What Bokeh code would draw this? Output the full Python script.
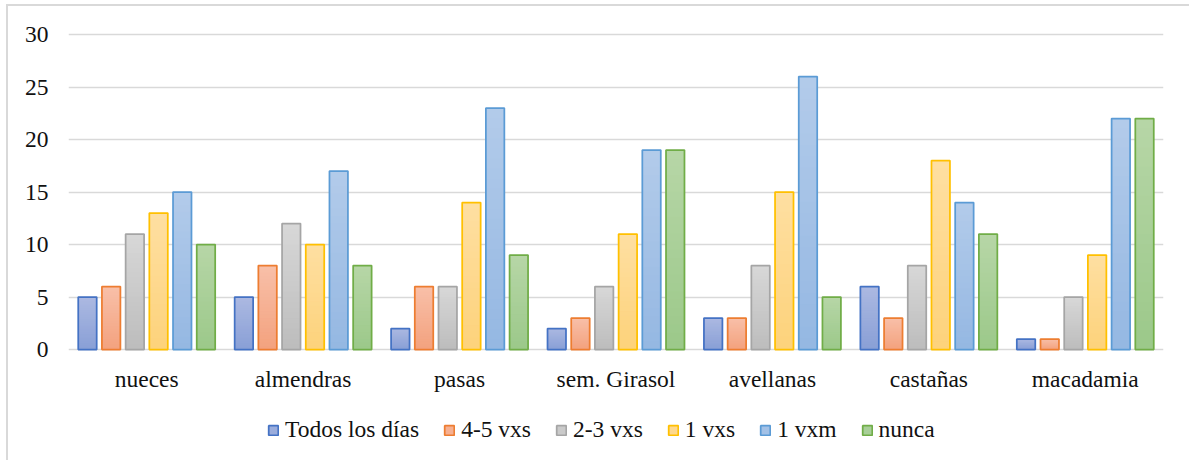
import numpy as np
from bokeh.plotting import figure
from bokeh.models import (ColumnDataSource, FactorRange, Range1d, FixedTicker,
                          Legend, LegendItem)
from bokeh.core.properties import value
from bokeh.transform import dodge
from bokeh.embed import file_html
from bokeh.resources import INLINE

categories = ["nueces", "almendras", "pasas", "sem. Girasol", "avellanas", "castañas", "macadamia"]
series_names = ["Todos los días", "4-5 vxs", "2-3 vxs", "1 vxs", "1 vxm", "nunca"]
todos_los_dias = [5, 5, 2, 2, 3, 6, 1]
v45_vxs = [6, 8, 6, 3, 3, 3, 1]
v23_vxs = [11, 12, 6, 6, 8, 8, 5]
v1_vxs = [13, 10, 14, 11, 15, 18, 9]
v1_vxm = [15, 17, 23, 19, 26, 14, 22]
nunca = [10, 8, 9, 19, 5, 11, 22]
series_values = [todos_los_dias, v45_vxs, v23_vxs, v1_vxs, v1_vxm, nunca]
y_ticks = [0, 5, 10, 15, 20, 25, 30]

line_colors = ["#4472c4", "#ed7d31", "#a5a5a5", "#ffc000", "#5b9bd5", "#70ad47"]
top_colors = ["#abb8e1", "#f8bfa8", "#d7d7d7", "#fedfa1", "#b2cbea", "#b6d6a6"]
bottom_colors = ["#889fd6", "#f3a17d", "#bcbcbc", "#fdd27a", "#94b7e2", "#9bc889"]

FONT = "Liberation Serif"
TXT = "#111111"
FS = "23.5px"

# frame extends below the zero line so that category labels and legend sit inside it
p = figure(frame_width=1095, frame_height=428,
           x_range=FactorRange(factors=categories, range_padding=0),
           y_range=Range1d(-10.57, 30.2), output_backend="svg", toolbar_location=None,
           min_border_left=60, min_border_right=26, min_border_top=26, min_border_bottom=0)
p.styles = {"border-top": "2px solid #d9d9d9", "border-left": "2px solid #d9d9d9",
            "margin-left": "6px", "margin-top": "4px"}
p.outline_line_color = None
p.background_fill_color = "white"
p.border_fill_color = "white"

p.xaxis.visible = False
p.xgrid.grid_line_color = None
p.ygrid.ticker = FixedTicker(ticks=y_ticks)
p.ygrid.grid_line_color = "#d9d9d9"
p.ygrid.grid_line_width = 1.5
p.yaxis.ticker = FixedTicker(ticks=y_ticks)
p.yaxis.axis_line_color = None
p.yaxis.major_tick_line_color = None
p.yaxis.minor_tick_line_color = None
p.yaxis.major_label_standoff = 14
p.yaxis.major_label_text_font = FONT
p.yaxis.major_label_text_font_size = FS
p.yaxis.major_label_text_color = TXT

# category labels under the zero line
lab_src = ColumnDataSource(dict(cat=categories, y=[0] * len(categories)))
p.text(x="cat", y="y", text="cat", source=lab_src, text_align="center", text_baseline="middle",
       y_offset=29, text_font=value(FONT), text_font_size=FS, text_color=TXT)


def hex2rgb(h):
    return np.array([int(h[i:i + 2], 16) for i in (1, 3, 5)], dtype=float)


def rgb2hex(c):
    return "#%02x%02x%02x" % tuple(int(round(v)) for v in c)


N = 24
MID = N // 2
pitch = 0.1515
bar_w = 0.118
items = []
for i, (name, vals) in enumerate(zip(series_names, series_values)):
    off = (i - 2.5) * pitch
    ctop = hex2rgb(top_colors[i])
    cbot = hex2rgb(bottom_colors[i])
    cat_col, top_col, full_col, col_col, la_col = [], [], [], [], []
    legend_index = None
    for k in range(N, 0, -1):
        frac = k / N
        col = rgb2hex(cbot + (ctop - cbot) * frac)
        if k == MID:
            legend_index = len(cat_col)
        for c, v in zip(categories, vals):
            cat_col.append(c)
            top_col.append(v * frac)
            full_col.append(v)
            col_col.append(col)
            la_col.append(1.0 if k == MID else 0.0)
    src = ColumnDataSource(dict(cat=cat_col, top=top_col, full=full_col, color=col_col, la=la_col))
    r_fill = p.vbar(x=dodge("cat", off, range=p.x_range), top="top", bottom=0, width=bar_w,
                    source=src, fill_color="color", line_color=None)
    r_line = p.vbar(x=dodge("cat", off, range=p.x_range), top="full", bottom=0, width=bar_w,
                    source=src, fill_alpha=0, line_color=line_colors[i], line_alpha="la",
                    line_width=1.75)
    items.append(LegendItem(label=name, renderers=[r_fill, r_line], index=legend_index))

legend = Legend(items=items, orientation="horizontal", location=(199, 17))
legend.label_text_font = FONT
legend.label_text_font_size = FS
legend.label_text_color = TXT
legend.glyph_width = 12
legend.glyph_height = 12
legend.label_standoff = 6
legend.spacing = 24
legend.padding = 0
legend.margin = 0
legend.border_line_color = None
legend.background_fill_alpha = 0
p.add_layout(legend, "center")

open("out.html", "w").write(file_html(p, INLINE))
